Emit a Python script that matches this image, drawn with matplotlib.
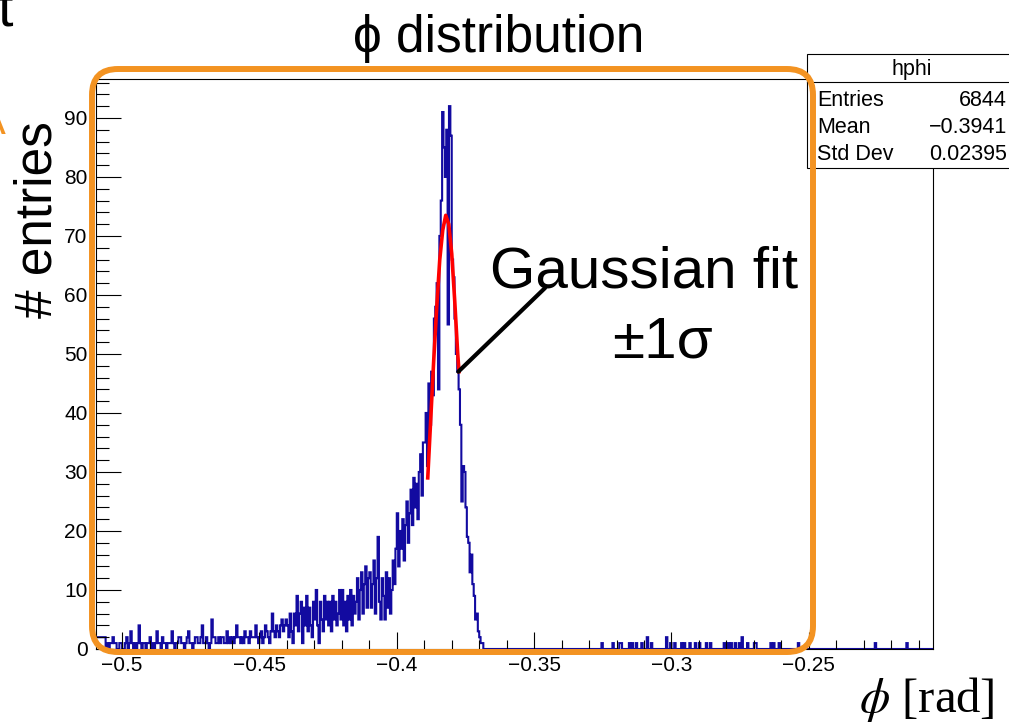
import numpy as np
import matplotlib

matplotlib.use("Agg")
import matplotlib.pyplot as plt
from matplotlib.patches import FancyBboxPatch, Rectangle
from matplotlib.lines import Line2D
from matplotlib.transforms import IdentityTransform
from matplotlib.ticker import MultipleLocator, FuncFormatter

W, H = 1009, 725

PHI_MIN, PHI_MAX = -0.5095, -0.2045
BIN_W = 0.0005
Y_MAX = 96.6

# bin contents (bin width 0.0005 rad)
# phi -0.5095 .. -0.45
left_tail_counts = [
    2, 2, 2, 2, 2, 2, 2, 0, 1, 0,
    1, 1, 2, 1, 1, 0, 0, 1, 1, 0,
    0, 1, 2, 0, 1, 3, 1, 0, 1, 0,
    1, 4, 1, 0, 1, 1, 0, 1, 1, 2,
    0, 1, 0, 1, 3, 1, 1, 0, 2, 1,
    1, 0, 1, 1, 1, 3, 1, 0, 1, 1,
    2, 2, 1, 1, 0, 1, 2, 3, 1, 1,
    0, 1, 2, 2, 1, 1, 2, 4, 1, 1,
    2, 1, 0, 1, 5, 2, 2, 1, 1, 2,
    1, 2, 2, 1, 1, 3, 1, 2, 1, 2,
    1, 2, 4, 2, 2, 1, 2, 1, 3, 2,
    2, 1, 3, 2, 2, 2, 4, 2, 1,
]
# phi -0.45 .. -0.39
rise_counts = [
    2, 3, 1, 2, 4, 3, 2, 1, 3, 6,
    3, 2, 4, 3, 2, 4, 5, 3, 4, 5,
    4, 2, 6, 3, 1, 6, 4, 9, 3, 6,
    8, 1, 7, 4, 9, 3, 7, 4, 2, 8,
    5, 10, 4, 1, 8, 5, 3, 9, 5, 8,
    4, 8, 3, 9, 5, 8, 4, 6, 10, 5,
    10, 4, 8, 3, 9, 5, 10, 4, 9, 6,
    8, 12, 5, 10, 13, 6, 11, 14, 7, 12,
    13, 7, 11, 15, 6, 12, 19, 8, 5, 12,
    9, 5, 13, 7, 12, 6, 10, 15, 11, 17,
    23, 14, 20, 17, 22, 15, 21, 25, 18, 23,
    27, 21, 29, 24, 28, 22, 30, 33, 26, 35,
]
# phi -0.39 .. -0.368
peak_counts = [
    35, 40, 31, 45, 38, 47, 43, 56, 58, 62,
    44, 70, 76, 91, 85, 80, 88, 55, 92, 87,
    66, 63, 56, 50, 47, 44, 38, 25, 31, 30,
    24, 19, 18, 13, 16, 11, 9, 5, 6, 3,
    2, 1, 1, 0,
]
# isolated entries beyond the peak (phi values)
right_tail_phi = [
    -0.3254, -0.3214, -0.3189, -0.3181, -0.3153, -0.3140, -0.3127, -0.3105,
    -0.3087, -0.3087, -0.3071, -0.3018, -0.3018, -0.3005, -0.2989, -0.2964,
    -0.2950, -0.2935, -0.2911, -0.2898, -0.2873, -0.2856, -0.2807, -0.2791,
    -0.2782, -0.2766, -0.2753, -0.2742, -0.2742, -0.2722, -0.2698, -0.2691,
    -0.2636, -0.2626, -0.2607, -0.2535, -0.2255, -0.2142,
]

# Gaussian fit curve, +-1 sigma range
fit_phi = [-0.38873, -0.38764, -0.38655, -0.38545, -0.38436, -0.38327,
           -0.38218, -0.38109, -0.38000, -0.37891, -0.37782, -0.37735]
fit_vals = [29, 39, 49, 58, 66, 71, 73.5, 72, 67, 59, 50, 47]

stats_title = "hphi"
stats_labels = ["Entries", "Mean", "Std Dev"]
stats_values = ["6844", "\u22120.3941", "0.02395"]

HIST_COLOR = "#120aa0"
ORANGE = "#f39322"
SANS = ["Liberation Sans", "DejaVu Sans"]

plt.rcParams["font.family"] = SANS

n_bins = int(round((PHI_MAX - PHI_MIN) / BIN_W))
edges = PHI_MIN + BIN_W * np.arange(n_bins + 1)
dense = np.array(left_tail_counts + rise_counts + peak_counts, dtype=float)
tail, _ = np.histogram(right_tail_phi, bins=edges[len(dense):])
counts = np.concatenate([dense, tail])

fig = plt.figure(figsize=(W / 100, H / 100), dpi=100)
ax = fig.add_axes([96 / W, (H - 649) / H, (933 - 96) / W, (649 - 79) / H])

ax.stairs(counts, edges, color=HIST_COLOR, lw=1.5)
ax.plot(fit_phi, fit_vals, color="red", lw=2.6, zorder=3)

ax.set_xlim(PHI_MIN, -0.2048)
ax.set_ylim(0, Y_MAX)

ax.xaxis.set_major_locator(MultipleLocator(0.05))
ax.xaxis.set_minor_locator(MultipleLocator(0.01))
ax.yaxis.set_major_locator(MultipleLocator(10))
ax.yaxis.set_minor_locator(MultipleLocator(2))
fmt = FuncFormatter(lambda v, p: f"{v:g}".replace("-", "\u2212"))
ax.xaxis.set_major_formatter(fmt)
ax.yaxis.set_major_formatter(fmt)

ax.tick_params(which="both", direction="in", top=False, right=False, width=0.8, labelsize=15)
ax.tick_params(axis="y", which="major", length=18, pad=6)
ax.tick_params(axis="y", which="minor", length=9)
ax.tick_params(axis="x", which="major", length=12, pad=5)
ax.tick_params(axis="x", which="minor", length=6.5)
for sp in ax.spines.values():
    sp.set_linewidth(0.8)

ident = IdentityTransform()

# title and axis titles (positions in pixels from top-left)
fig.text(499, H - 52, "\u03d5 distribution", transform=ident, ha="center", va="baseline", fontsize=37)
fig.text(38, H - 220, "# entries", transform=ident, ha="center", va="center", rotation=90, fontsize=37)
fig.text(995, H - 712, r"$\phi$ [rad]", transform=ident, ha="right", va="baseline",
         fontsize=35, family="Liberation Serif", math_fontfamily="stix")

# annotation
fig.text(490, H - 288, "Gaussian fit", transform=ident, ha="left", va="baseline", fontsize=42)
fig.text(612, H - 358, "\u00b11\u03c3", transform=ident, ha="left", va="baseline", fontsize=42)
ax.annotate("", xy=(-0.3776, 47), xycoords="data", xytext=(545, H - 288), textcoords=ident,
            arrowprops=dict(arrowstyle="-", lw=3, color="black", shrinkA=0, shrinkB=0))

# stats box
box = Rectangle((807, H - 168), 215, 114, transform=ident, fc="white", ec="black", lw=0.8)
fig.add_artist(box)
fig.add_artist(Line2D([807, 1022], [H - 82, H - 82], transform=ident, color="black", lw=0.8))
fig.text(912, H - 75, stats_title, transform=ident, ha="center", va="baseline", fontsize=15.5)
for i, (lab, val) in enumerate(zip(stats_labels, stats_values)):
    yb = H - (106 + 27 * i)
    fig.text(817, yb, lab, transform=ident, ha="left", va="baseline", fontsize=15.5)
    fig.text(1007, yb, val, transform=ident, ha="right", va="baseline", fontsize=15.5)

# orange highlight frame
frame = FancyBboxPatch((92, H - 652), 813 - 92, 652 - 69, boxstyle="round,pad=0,rounding_size=26",
                       transform=ident, fc="none", ec=ORANGE, lw=4.3, zorder=5)
fig.add_artist(frame)

# cut-off pieces of the neighbouring panel
fig.text(-3, H - 25, "t", transform=ident, ha="left", va="baseline", fontsize=40)
fig.text(6, H - 134, "A", transform=ident, ha="right", va="baseline", fontsize=30, color=ORANGE)

fig.savefig("out.png", dpi=100)
